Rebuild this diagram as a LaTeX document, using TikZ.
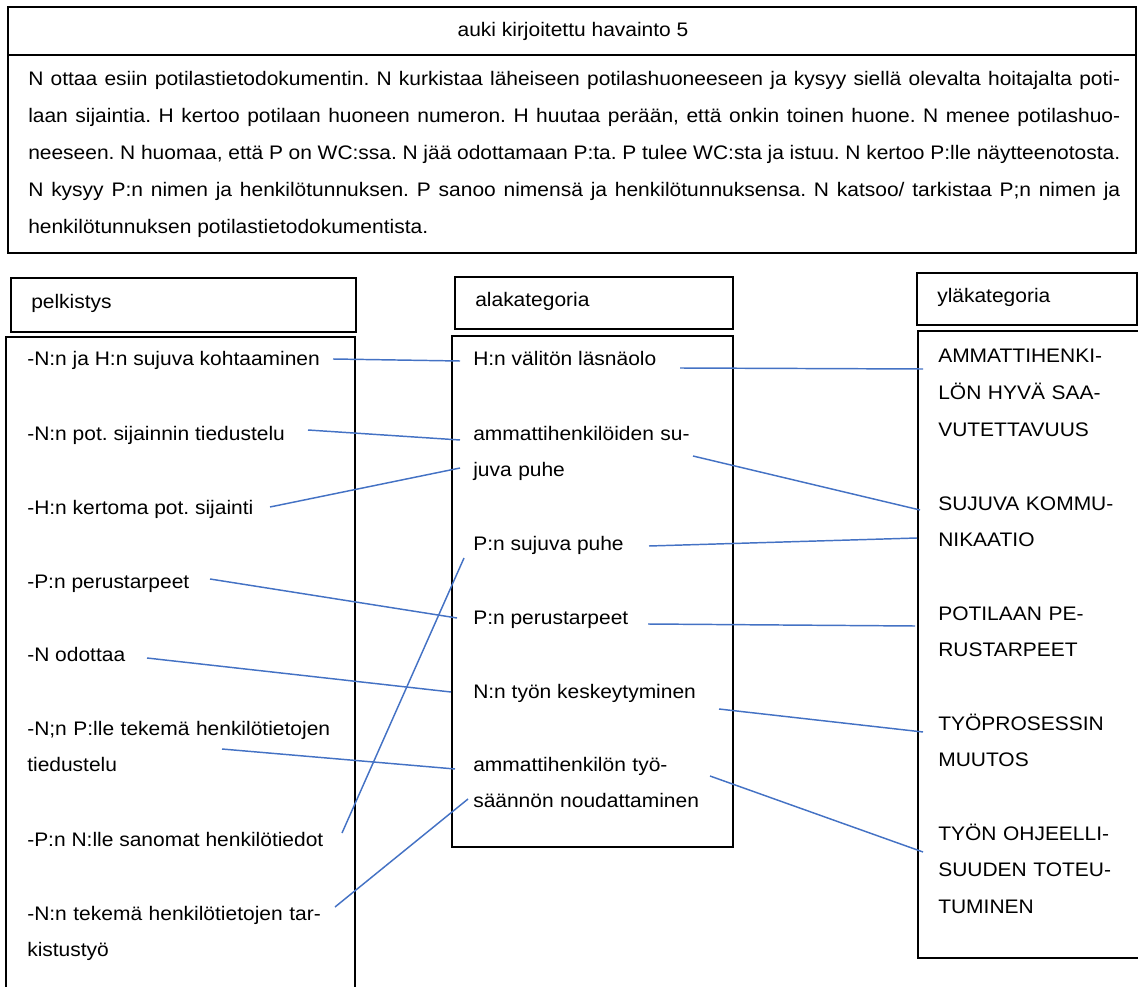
\documentclass[tikz,border=0pt]{standalone}
\usepackage{fontspec}
\setmainfont{Liberation Sans}[FakeStretch=1.07]
\usetikzlibrary{calc}
\definecolor{connblue}{HTML}{4472C4}
\begin{document}
\begin{tikzpicture}[x=0.75pt,y=-0.75pt,
  box/.style={draw=black,line width=0.9pt},
  conn/.style={draw=connblue,line width=1.1pt},
  txt/.style={inner sep=0pt,anchor=base west,font=\fontsize{14.7}{27.7}\selectfont\frenchspacing},
  captxt/.style={inner sep=0pt,anchor=base west,font=\fontsize{14.7}{27.5}\selectfont\frenchspacing},
  leftpar/.style={text width=240pt,align=left},
  midpar/.style={text width=200pt,align=left},
  rightpar/.style={text width=160pt,align=left},
]
\useasboundingbox (0,0) rectangle (1138,987);
\clip (0,0) rectangle (1138,987);

% top boxes
\draw[box] (8,7) rectangle (1136,55);
\draw[box] (8,55) rectangle (1136,253);
\node[txt,anchor=base] (title) at (573,37) {auki kirjoitettu havainto 5};
\node[txt,text width=819pt,align=justify] (obs) at (28,86) {\hyphenpenalty=10000 \exhyphenpenalty=0 \tolerance=9999 N ottaa esiin potilastietodokumentin. N kurkistaa läheiseen potilashuoneeseen ja kysyy siellä olevalta hoitajalta poti-\linebreak laan sijaintia. H kertoo potilaan huoneen numeron. H huutaa perään, että onkin toinen huone. N menee potilashuo-\linebreak neeseen. N huomaa, että P on WC:ssa. N jää odottamaan P:ta. P tulee WC:sta ja istuu. N kertoo P:lle näytteenotosta.\linebreak N kysyy P:n nimen ja henkilötunnuksen. P sanoo nimensä ja henkilötunnuksensa. N katsoo/ tarkistaa P;n nimen ja\linebreak henkilötunnuksen potilastietodokumentista.};

% column headers and columns
\draw[box] (11,278) rectangle (356,332);
\node[txt] (hleft) at (31,309) {pelkistys};
\draw[box] (6,337) rectangle (355,1000);

\draw[box] (455,277) rectangle (733,329);
\node[txt] (hmid) at (475,307) {alakategoria};
\draw[box] (452,336) rectangle (733,847);

\draw[box] (917,273) rectangle (1137,325);
\node[txt] (hright) at (937,303) {yläkategoria};
\draw[box] (918,331) rectangle (1150,958);

% left column
\node[txt] (l1) at (27,366) {-N:n ja H:n sujuva kohtaaminen};
\node[txt] (l2) at (27,440) {-N:n pot. sijainnin tiedustelu};
\node[txt] (l3) at (27,514) {-H:n kertoma pot. sijainti};
\node[txt] (l4) at (27,588) {-P:n perustarpeet};
\node[txt] (l5) at (27,661) {-N odottaa};
\node[txt,leftpar] (l6) at (27,735) {-N;n P:lle tekemä henkilötietojen\\tiedustelu};
\node[txt] (l7) at (27,846) {-P:n N:lle sanomat henkilötiedot};
\node[txt,leftpar] (l8) at (27,920) {-N:n tekemä henkilötietojen tar-\\kistustyö};

% middle column
\node[txt] (m1) at (473,366) {H:n välitön läsnäolo};
\node[txt,midpar] (m2) at (473,440) {ammattihenkilöiden su-\\juva puhe};
\node[txt] (m3) at (473,550) {P:n sujuva puhe};
\node[txt] (m4) at (473,624) {P:n perustarpeet};
\node[txt] (m5) at (473,698) {N:n työn keskeytyminen};
\node[txt,midpar] (m6) at (473,771) {ammattihenkilön työ-\\säännön noudattaminen};

% right column
\node[captxt,rightpar] (r1) at (938,363) {AMMATTIHENKI-\\LÖN HYVÄ SAA-\\VUTETTAVUUS};
\node[captxt,rightpar] (r2) at (938,510) {SUJUVA KOMMU-\\NIKAATIO};
\node[captxt,rightpar] (r3) at (938,620) {POTILAAN PE-\\RUSTARPEET};
\node[captxt,rightpar] (r4) at (938,730) {TYÖPROSESSIN\\MUUTOS};
\node[captxt,rightpar] (r5) at (938,840) {TYÖN OHJEELLI-\\SUUDEN TOTEU-\\TUMINEN};

% connectors left -> middle
\draw[conn] ([shift={(306,-7)}]l1.base west) -- ([shift={(-13,-5)}]m1.base west);
\draw[conn] ([shift={(281,-10)}]l2.base west) -- ([shift={(-13,0)}]m2.base west);
\draw[conn] ([shift={(243,-7)}]l3.base west) -- ([shift={(-13,28)}]m2.base west);
\draw[conn] ([shift={(183,-9)}]l4.base west) -- ([shift={(-16,-6)}]m4.base west);
\draw[conn] ([shift={(120,-3)}]l5.base west) -- ([shift={(-22,-6)}]m5.base west);
\draw[conn] ([shift={(195,14)}]l6.base west) -- ([shift={(-18,-2)}]m6.base west);
\draw[conn] ([shift={(315,-13)}]l7.base west) -- ([shift={(-9,8)}]m3.base west);
\draw[conn] ([shift={(308,-13)}]l8.base west) -- ([shift={(-5,28)}]m6.base west);

% connectors middle -> right
\draw[conn] ([shift={(207,2)}]m1.base west) -- ([shift={(-15,6)}]r1.base west);
\draw[conn] ([shift={(220,16)}]m2.base west) -- ([shift={(-18,0)}]r2.base west);
\draw[conn] ([shift={(176,-4)}]m3.base west) -- ([shift={(-21,28)}]r2.base west);
\draw[conn] ([shift={(175,0)}]m4.base west) -- ([shift={(-23,6)}]r3.base west);
\draw[conn] ([shift={(246,11)}]m5.base west) -- ([shift={(-15,2)}]r4.base west);
\draw[conn] ([shift={(237,5)}]m6.base west) -- ([shift={(-15,12)}]r5.base west);
\end{tikzpicture}
\end{document}
